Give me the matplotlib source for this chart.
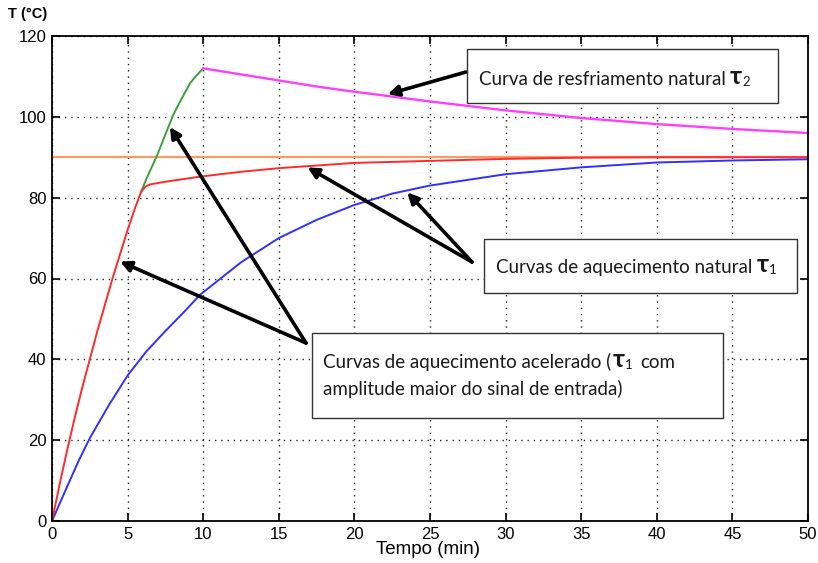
import numpy as np
import matplotlib
matplotlib.use("Agg")
import matplotlib.pyplot as plt
from matplotlib.patches import Rectangle

# readings taken off the original figure (time in min, temperature in degC)
t_setpoint = [0, 50]
setpoint = [90, 90]

t_nat = [0, 1, 1.75, 2.5, 3.75, 5, 6.25, 7.5, 8.75, 9.8, 12.5, 15, 17.5, 20, 22.5, 25,
         30, 35, 40, 45, 50]
nat = [0, 8.5, 14.8, 20.5, 28.6, 36, 42, 47, 51.8, 56, 64, 70, 74.5, 78.2, 81, 83,
       85.8, 87.5, 88.7, 89.2, 89.5]

t_acc = [0, 0.5, 1, 1.5, 2, 2.5, 3, 3.5, 4, 4.5, 5, 5.5, 5.9, 6.2, 6.5, 7.6, 9.8,
         12.5, 15, 20, 25, 30, 35, 40, 50]
acc = [0, 9, 17.5, 25.5, 33, 40, 47, 53.5, 60, 66, 72, 77.5, 81.5, 82.8, 83.3, 84, 85.2,
       86.4, 87.3, 88.6, 89.1, 89.6, 89.9, 90, 90]

t_acc2 = [5.9, 6.26, 6.92, 8.02, 8.5, 9.13, 9.5, 10]
acc2 = [81.5, 84.8, 90.2, 100.5, 104, 108.3, 110, 112]

t_cool = [10, 12.5, 15, 17.5, 20, 21.7, 25, 30, 35, 40, 45, 50]
cool = [112, 110.5, 109, 107.5, 106.2, 105.4, 103.8, 101.6, 99.7, 98.2, 97, 96]

W, H = 818, 563
fig = plt.figure(figsize=(W / 100, H / 100), dpi=100)
ax = fig.add_axes([52 / W, 1 - 521 / H, (808 - 52) / W, (521 - 36) / H])

ax.plot(t_setpoint, setpoint, color="#ff9966", lw=1.6)
ax.plot(t_nat, nat, color="#3030ff", lw=1.4)
ax.plot(t_acc2, acc2, color="#3ca03c", lw=1.4)
ax.plot(t_acc, acc, color="#ff2a2a", lw=1.4)
ax.plot(t_cool, cool, color="#ff40ff", lw=1.7)

ax.set_xlim(0, 50)
ax.set_ylim(0, 120)
ax.set_xticks(np.arange(0, 51, 5))
ax.set_yticks(np.arange(0, 121, 20))
ax.tick_params(direction="in", length=6, width=1.2, top=True, right=True,
               labelsize=12, pad=4)
for lab in ax.get_xticklabels() + ax.get_yticklabels():
    lab.set_family("Liberation Sans")
for s in ax.spines.values():
    s.set_linewidth(1.3)
ax.grid(True, color="#222222", linestyle=(0, (1, 3.5)), linewidth=1.0)

fig.text(8 / W, 1 - 14 / H, "T (°C)", fontsize=10.5, fontweight="bold",
         family="Liberation Sans", va="center", ha="left")
fig.text(428 / W, 1 - 549 / H, "Tempo (min)", fontsize=13.5,
         family="Liberation Sans", va="center", ha="center")


def px(x, y):
    return (x / W, 1 - y / H)


# boxes
boxes = [(467, 49, 778, 103), (484, 239, 797, 293), (312, 333, 723, 418)]
for x0, y0, x1, y1 in boxes:
    ax.add_patch(Rectangle(px(x0, y1), (x1 - x0) / W, (y1 - y0) / H,
                           transform=fig.transFigure, facecolor="white",
                           edgecolor="#333333", lw=1.0, zorder=5, clip_on=False))

fam = ["Lato", "DejaVu Sans"]
tcol = "#1a1a1a"


def label(x, y, pieces):
    # pieces: (text, fontsize, gap in points, weight)
    prev = ax.text(*px(x, y), pieces[0][0], fontsize=pieces[0][1], family=fam,
                   va="baseline", ha="left", color=tcol, zorder=6,
                   transform=fig.transFigure, clip_on=False)
    for txt, size, gap, wt in pieces[1:]:
        prev = ax.annotate(txt, xy=(1, 0), xycoords=prev, xytext=(gap, 0),
                           textcoords="offset points", fontsize=size, family=fam,
                           fontweight=wt, va="bottom", ha="left", color=tcol,
                           zorder=6, annotation_clip=False)


label(479, 85, [("Curva de resfriamento natural", 13.5, 0, ""),
                ("τ", 18, 3, "bold"), ("2", 9.5, 0.5, "normal")])
label(496, 273, [("Curvas de aquecimento natural", 13.5, 0, ""),
                 ("τ", 18, 3, "bold"), ("1", 9.5, 0.5, "normal")])
label(323, 368, [("Curvas de aquecimento acelerado (", 13.5, 0, ""),
                 ("τ", 18, 1, "bold"), ("1", 9.5, 0.5, "normal"),
                 ("com", 13.5, 5, "normal")])
ax.text(*px(323, 395), "amplitude maior do sinal de entrada)", fontsize=13.5,
        family=fam, va="baseline", ha="left", color=tcol, zorder=6,
        transform=fig.transFigure, clip_on=False)

# arrows: tip on the curve (data), tail at the box (figure)
arrows = [((22.2, 105.6), (466, 72)),
          ((23.5, 81.3), (472, 262)),
          ((16.9, 87.5), (472, 262)),
          ((4.5, 64.2), (306, 343)),
          ((7.8, 97.5), (306, 343))]
for tip, tail in arrows:
    ax.annotate("", xy=tip, xycoords="data", xytext=px(*tail),
                textcoords="figure fraction",
                arrowprops=dict(arrowstyle="-|>", color="k", lw=2.6,
                                mutation_scale=16, shrinkA=0, shrinkB=0),
                annotation_clip=False, zorder=4)

fig.savefig("out.png", dpi=100)
